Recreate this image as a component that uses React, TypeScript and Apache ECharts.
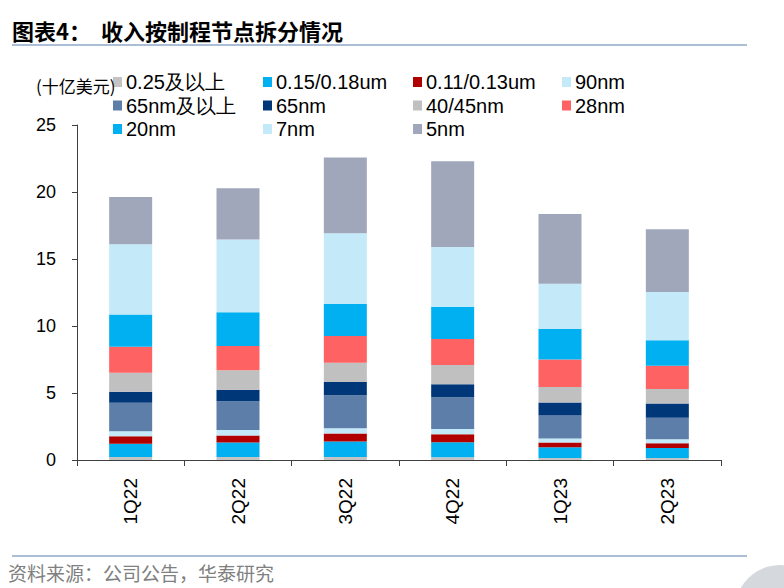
import React, { useEffect, useRef } from "react";
import * as echarts from "echarts";

const categories = ["1Q22", "2Q22", "3Q22", "4Q22", "1Q23", "2Q23"];
const seriesNames = [
  "0.25及以上",
  "0.15/0.18um",
  "0.11/0.13um",
  "90nm",
  "65nm及以上",
  "65nm",
  "40/45nm",
  "28nm",
  "20nm",
  "7nm",
  "5nm",
];
const seriesColors = [
  "#C3C3C3",
  "#00B0F0",
  "#B00000",
  "#C4EAFA",
  "#5C7EA8",
  "#003778",
  "#C0C0C0",
  "#FF6262",
  "#00B0F0",
  "#C4EAFA",
  "#A1A7BB",
];
const v025 = [0.22, 0.22, 0.22, 0.2, 0.15, 0.15];
const v015 = [1.0, 1.08, 1.16, 1.12, 0.8, 0.75];
const v011 = [0.55, 0.52, 0.6, 0.6, 0.35, 0.35];
const v90 = [0.38, 0.42, 0.39, 0.39, 0.3, 0.3];
const v65plus = [2.12, 2.14, 2.47, 2.37, 1.72, 1.6];
const v65 = [0.82, 0.87, 0.99, 0.97, 0.98, 1.07];
const v40 = [1.42, 1.45, 1.42, 1.44, 1.15, 1.08];
const v28 = [1.94, 1.81, 2.01, 1.94, 2.05, 1.73];
const v20 = [2.41, 2.51, 2.39, 2.41, 2.3, 1.9];
const v7 = [5.25, 5.43, 5.27, 4.46, 3.35, 3.6];
const v5 = [3.51, 3.83, 5.65, 6.4, 5.2, 4.69];
const seriesValues = [v025, v015, v011, v90, v65plus, v65, v40, v28, v20, v7, v5];
const yTicks = [0, 5, 10, 15, 20, 25];

const legendColumns = [
  ["0.25及以上", "65nm及以上", "20nm"],
  ["0.15/0.18um", "65nm", "7nm"],
  ["0.11/0.13um", "40/45nm", "5nm"],
  ["90nm", "28nm"],
];
const legendLefts = [108, 258, 408, 557];

export default function App() {
  const ref = useRef<HTMLDivElement>(null);
  useEffect(() => {
    if (!ref.current) return;
    const chart = echarts.init(ref.current, undefined, { renderer: "svg" });
    const font = "Liberation Sans, Arial, Helvetica, sans-serif";
    const option = {
      animation: false,
      backgroundColor: "#ffffff",
      grid: { left: 77, right: 63, top: 125, bottom: 128, containLabel: false },
      legend: legendColumns.map((col, i) => ({
        data: col,
        orient: "vertical",
        left: legendLefts[i],
        top: 67,
        itemWidth: 9,
        itemHeight: 10,
        itemGap: 3.5,
        icon: "rect",
        selectedMode: false,
        textStyle: { fontSize: 20, color: "#000", fontFamily: font, lineHeight: 20, padding: [0, 0, 0, -1] },
      })),
      xAxis: {
        type: "category",
        data: categories,
        axisLine: { lineStyle: { color: "#404040", width: 1 } },
        axisTick: { show: true, length: 6, lineStyle: { color: "#404040" } },
        axisLabel: { rotate: 90, fontSize: 19, color: "#000", fontFamily: font, margin: 18 },
      },
      yAxis: {
        type: "value",
        min: yTicks[0],
        max: yTicks[yTicks.length - 1],
        interval: 5,
        splitLine: { show: false },
        axisLine: { show: true, lineStyle: { color: "#404040", width: 1 } },
        axisTick: { show: true, length: 5, lineStyle: { color: "#404040" } },
        axisLabel: { fontSize: 18, color: "#000", fontFamily: font, margin: 21 },
      },
      series: seriesNames.map((name, i) => ({
        name,
        type: "bar",
        stack: "total",
        barWidth: 43,
        itemStyle: { color: seriesColors[i] },
        data: seriesValues[i],
      })),
      graphic: [
        {
          type: "text",
          left: 12,
          top: 19,
          style: {
            text: "图表4：  收入按制程节点拆分情况",
            fontSize: 22,
            fontWeight: "bold",
            fill: "#000",
            fontFamily: "Noto Sans CJK SC",
          },
        },
        {
          type: "line",
          shape: { x1: 12, y1: 45, x2: 747, y2: 45 },
          style: { stroke: "#8FA8C8", lineWidth: 1.5 },
        },
        {
          type: "text",
          left: 36,
          top: 77,
          style: { text: "(十亿美元)", fontSize: 17, fill: "#000", fontFamily: "Noto Sans CJK SC" },
          z: 10,
        },
        {
          type: "line",
          shape: { x1: 12, y1: 556, x2: 747, y2: 556 },
          style: { stroke: "#8FA8C8", lineWidth: 1.5 },
        },
        {
          type: "text",
          left: 8,
          top: 563,
          style: {
            text: "资料来源：公司公告，华泰研究",
            fontSize: 19,
            fill: "#808080",
            fontFamily: "Noto Sans CJK SC",
          },
        },
        {
          type: "circle",
          shape: { cx: 780, cy: 610, r: 45 },
          style: { fill: "#D5D9DE" },
        },
      ],
    };
    chart.setOption(option);
    return () => chart.dispose();
  }, []);
  return (
    <div
      ref={ref}
      style={{ position: "absolute", left: 0, top: 0, width: 784, height: 588 }}
    />
  );
}
